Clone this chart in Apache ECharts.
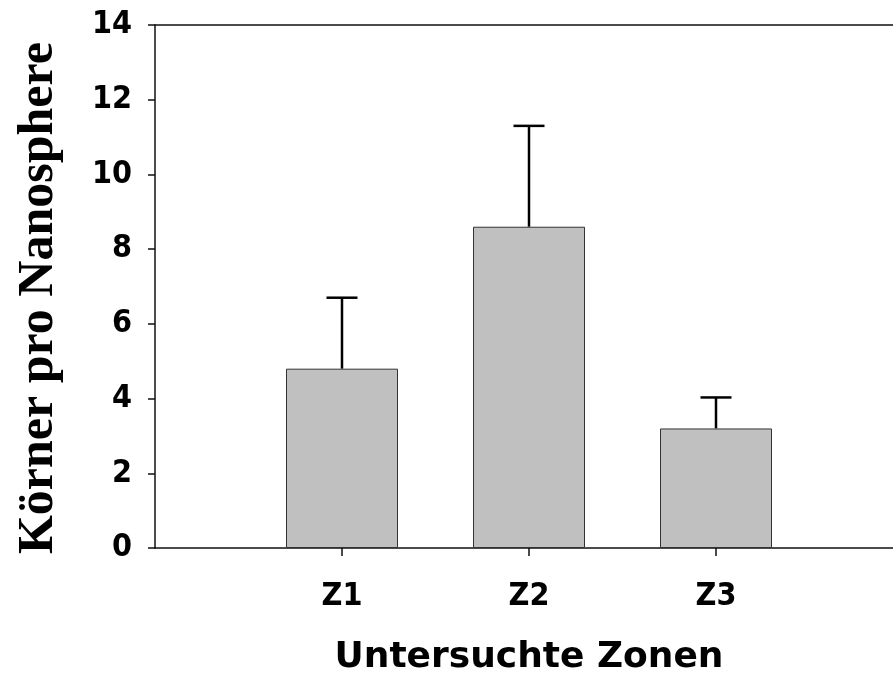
<!DOCTYPE html>
<html>
<head>
<meta charset="utf-8">
<script src="https://cdn.jsdelivr.net/npm/echarts@6/dist/echarts.min.js"></script>
<style>
  html, body { margin: 0; padding: 0; background: #fff; }
  #chart { width: 893px; height: 677px; }
</style>
</head>
<body>
<div id="chart"></div>
<script>
const zones = ['Z1', 'Z2', 'Z3'];
const means = [4.8, 8.6, 3.2];
const errors = [1.9, 2.7, 0.83];
const yTicks = [0, 2, 4, 6, 8, 10, 12, 14];

// empty slot at both ends so the y axis sits one step left of Z1
const slots = [''].concat(zones, ['']);
const barData = ['-'].concat(means, ['-']);
const errData = zones.map((z, i) => [i + 1, means[i], means[i] + errors[i]]);

const tickFont = { fontFamily: '"DejaVu Sans Condensed", "DejaVu Sans", sans-serif', fontWeight: 'bold', fontSize: 32, color: '#000' };
const axisLine = { lineStyle: { color: '#111', width: 1.5 } };

const chart = echarts.init(document.getElementById('chart'));

chart.setOption({
    animation: false,
    backgroundColor: '#fff',
    grid: { left: 155, top: 25, right: -10, bottom: 129, containLabel: false, outerBoundsMode: 'none' },
    xAxis: [
        {
            type: 'category',
            data: slots,
            boundaryGap: false,
            axisLine: axisLine,
            axisTick: {
                length: 8,
                lineStyle: { color: '#111', width: 1.5 },
                interval: (idx) => idx > 0 && idx < slots.length - 1
            },
            axisLabel: { ...tickFont, margin: 33, interval: 0 },
            splitLine: { show: false },
            name: 'Untersuchte Zonen',
            nameLocation: 'middle',
            nameGap: 92,
            nameTextStyle: { fontFamily: '"DejaVu Sans", sans-serif', fontWeight: 'bold', fontSize: 36, color: '#000' }
        },
        {
            type: 'category',
            position: 'top',
            data: slots,
            axisLine: axisLine,
            axisTick: { show: false },
            axisLabel: { show: false }
        }
    ],
    yAxis: {
        type: 'value',
        min: yTicks[0],
        max: yTicks[yTicks.length - 1],
        interval: 2,
        axisLine: { show: true, ...axisLine },
        axisTick: { show: true, length: 7, lineStyle: { color: '#111', width: 1.5 } },
        axisLabel: { ...tickFont, margin: 23 },
        splitLine: { show: false }
    },
    graphic: [
        {
            type: 'text',
            x: 39,
            y: 298,
            rotation: Math.PI / 2,
            style: {
                text: 'Körner pro Nanosphere',
                fontFamily: '"Liberation Serif", "Times New Roman", serif',
                fontWeight: 'bold',
                fontSize: 50,
                fill: '#000',
                align: 'center',
                verticalAlign: 'middle'
            }
        }
    ],
    series: [
        {
            type: 'custom',
            data: errData,
            z: 1,
            renderItem: (params, api) => {
                const base = api.coord([api.value(0), api.value(1)]);
                const top = api.coord([api.value(0), api.value(2)]);
                const style = { stroke: '#000', lineWidth: 2.5 };
                return {
                    type: 'group',
                    children: [
                        { type: 'line', shape: { x1: base[0], y1: base[1], x2: top[0], y2: top[1] }, style: style },
                        { type: 'line', shape: { x1: top[0] - 15.5, y1: top[1], x2: top[0] + 15.5, y2: top[1] }, style: style }
                    ]
                };
            }
        },
        {
            type: 'bar',
            data: barData,
            barWidth: 112,
            z: 2,
            itemStyle: { color: '#c0c0c0', borderColor: '#333', borderWidth: 1 }
        }
    ]
});
</script>
</body>
</html>
